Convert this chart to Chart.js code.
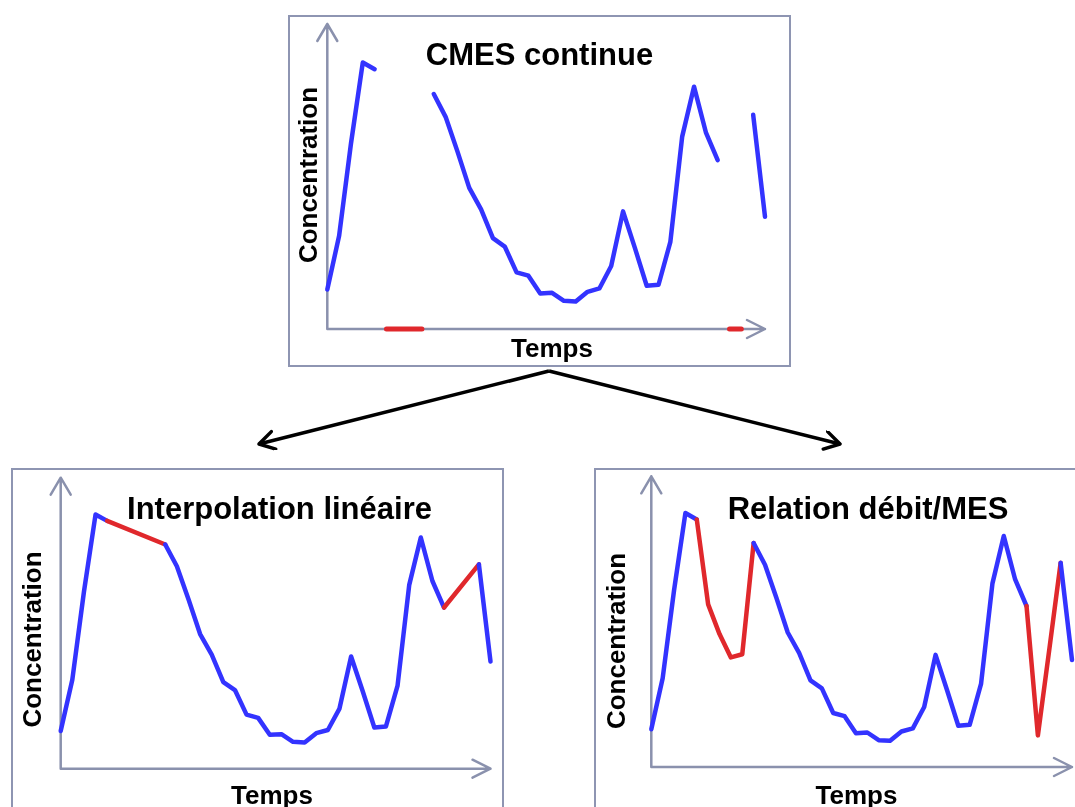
<!DOCTYPE html>
<html>
<head>
<meta charset="utf-8">
<script src="https://cdn.jsdelivr.net/npm/chart.js@4.4.1/dist/chart.umd.min.js"></script>
<style>
    html, body { margin: 0; padding: 0; background: #fff; overflow: hidden; width: 1075px; height: 807px; }
    .cadre { position: absolute; border: 2px solid #8E95B2; box-sizing: border-box; background: #fff; }
    .cadre canvas { display: block; }
    #fleches { position: absolute; left: 0; top: 0; }
</style>
</head>
<body>

<svg id="fleches" width="1075" height="807">
    <defs>
        <marker id="pointe" markerWidth="22" markerHeight="22" refX="17" refY="10" orient="auto" markerUnits="userSpaceOnUse">
            <path d="M2,1 L17,10 L2,19" fill="none" stroke="#000" stroke-width="3.5" stroke-linecap="round" stroke-linejoin="round"/>
        </marker>
    </defs>
    <path d="M549,371 L259,444" stroke="#000" stroke-width="3.5" fill="none" marker-end="url(#pointe)"/>
    <path d="M549,371 L840,444" stroke="#000" stroke-width="3.5" fill="none" marker-end="url(#pointe)"/>
</svg>

<div class="cadre" style="left:288px;top:15px;width:503px;height:352px"><canvas id="chart-continue" width="499" height="348"></canvas></div>
<div class="cadre" style="left:11px;top:468px;width:493px;height:360px"><canvas id="chart-interpolation" width="489" height="356"></canvas></div>
<div class="cadre" style="left:594px;top:468px;width:500px;height:360px"><canvas id="chart-relation" width="496" height="356"></canvas></div>

<script>
"use strict";

// pas de temps (axe des x)
var pasDeTemps = [0, 1, 2, 3, 4, 5, 6, 7, 8, 9, 10, 11, 12, 13, 14, 15, 16, 17, 18,
    19, 20, 21, 22, 23, 24, 25, 26, 27, 28, 29, 30, 31, 32, 33, 34, 35, 36, 37];

// CMES mesurée, null = lacune
var cmesMesuree = [11.8, 27.8, 55.3, 79.5, 77.5, null, null, null, null,
    70.1, 63.3, 53.0, 42.1, 35.7, 27.1, 24.6, 16.9, 15.9, 10.6, 10.8, 8.4, 8.2, 11.1,
    12.1, 18.8, 35.1, 24.2, 12.9, 13.2, 26.0, 57.4, 72.3, 58.7, 50.4, null, null, 63.9, 33.5];

// valeurs reconstituées par la relation débit/MES (seulement sur les lacunes)
var cmesRelationDebit = [null, null, null, null, null, 50.9, 41.6, 34.3, 35.3,
    null, null, null, null, null, null, null, null, null, null, null, null, null, null,
    null, null, null, null, null, null, null, null, null, null, null, 9.9, 36.7, null, null];

// périodes de lacune, tracées sur l'axe du temps
var lacunes = [null, null, null, null, null, 0, 0, 0, 0,
    null, null, null, null, null, null, null, null, null, null, null, null, null, null,
    null, null, null, null, null, null, null, null, null, null, null, 0, 0, null, null];

var BLEU = "#3333FF";
var ROUGE = "#E0282C";
var GRIS = "#8A91AD";
var POLICE = "'Liberation Sans', Arial, sans-serif";
var Y_MAX = 91;

// axes fléchés + textes
var habillage = {
    id: 'habillage',
    beforeDatasetsDraw: function (chart) {
        var ctx = chart.ctx, a = chart.chartArea;
        ctx.save();
        ctx.strokeStyle = GRIS;
        ctx.lineWidth = 2.5;
        ctx.lineCap = 'round';
        ctx.lineJoin = 'round';
        ctx.beginPath();
        ctx.moveTo(a.left, a.top);
        ctx.lineTo(a.left, a.bottom);
        ctx.lineTo(a.right, a.bottom);
        ctx.moveTo(a.left - 10, a.top + 17);
        ctx.lineTo(a.left, a.top);
        ctx.lineTo(a.left + 10, a.top + 17);
        ctx.moveTo(a.right - 18, a.bottom - 9);
        ctx.lineTo(a.right, a.bottom);
        ctx.lineTo(a.right - 18, a.bottom + 9);
        ctx.stroke();
        ctx.restore();
    },
    afterDraw: function (chart, args, opts) {
        var ctx = chart.ctx;
        ctx.save();
        ctx.fillStyle = "#000";
        ctx.textAlign = 'center';
        ctx.textBaseline = 'alphabetic';
        ctx.font = "bold 31px " + POLICE;
        ctx.fillText(opts.titre, opts.titreX, opts.titreY);
        ctx.font = "bold 26px " + POLICE;
        ctx.fillText("Temps", opts.tempsX, opts.tempsY);
        ctx.translate(opts.concX, opts.concY);
        ctx.rotate(-Math.PI / 2);
        ctx.fillText("Concentration", 0, 0);
        ctx.restore();
    }
};

function ligne(data, extra) {
    var ds = {
        data: data,
        borderColor: BLEU,
        borderWidth: 4.5,
        pointRadius: 0,
        tension: 0,
        borderCapStyle: 'round',
        borderJoinStyle: 'round',
        clip: false
    };
    for (var k in extra) { ds[k] = extra[k]; }
    return ds;
}

function options(padding, textes) {
    return {
        responsive: false,
        animation: false,
        layout: { padding: padding },
        plugins: {
            legend: { display: false },
            tooltip: { enabled: false },
            habillage: textes
        },
        scales: {
            x: { type: 'category', offset: false, display: false },
            y: { min: 0, max: Y_MAX, display: false }
        }
    };
}

//start CMES continue
function draw() {
    new Chart(document.getElementById('chart-continue'), {
        type: 'line',
        data: {
            labels: pasDeTemps,
            datasets: [
                ligne(cmesMesuree, { spanGaps: false }),
                ligne(lacunes, { borderColor: ROUGE, borderWidth: 5, spanGaps: false })
            ]
        },
        options: options({ left: 37.3, top: 7, right: 24, bottom: 36 },
            { titre: "CMES continue", titreX: 249.5, titreY: 48, concX: 27, concY: 158, tempsX: 262, tempsY: 340 }),
        plugins: [habillage]
    });
}
draw();
//end CMES continue

//start interpolation linéaire
function draw1() {
    new Chart(document.getElementById('chart-interpolation'), {
        type: 'line',
        data: {
            labels: pasDeTemps,
            datasets: [
                ligne(cmesMesuree, {
                    spanGaps: true,
                    segment: {
                        // segment qui enjambe une lacune -> rouge
                        borderColor: function (c) {
                            return (c.p0.skip || c.p1.skip) ? ROUGE : undefined;
                        }
                    }
                })
            ]
        },
        options: options({ left: 47.7, top: 7.7, right: 11.5, bottom: 57.3 },
            { titre: "Interpolation linéaire", titreX: 266.5, titreY: 48.7, concX: 28, concY: 169.5, tempsX: 259, tempsY: 334 }),
        plugins: [habillage]
    });
}
draw1();
//end interpolation linéaire

//start relation débit/MES
function draw2() {
    var reconstituee = cmesMesuree.map(function (v, i) {
        return v !== null ? v : cmesRelationDebit[i];
    });
    new Chart(document.getElementById('chart-relation'), {
        type: 'line',
        data: {
            labels: pasDeTemps,
            datasets: [
                ligne(reconstituee, {
                    segment: {
                        borderColor: function (c) {
                            return (cmesMesuree[c.p0DataIndex] === null || cmesMesuree[c.p1DataIndex] === null) ? ROUGE : undefined;
                        }
                    }
                })
            ]
        },
        options: options({ left: 55.3, top: 6.3, right: 20, bottom: 59 },
            { titre: "Relation débit/MES", titreX: 272, titreY: 48.7, concX: 29, concY: 171, tempsX: 260.5, tempsY: 334 }),
        plugins: [habillage]
    });
}
draw2();
//end relation débit/MES
</script>
</body>
</html>
